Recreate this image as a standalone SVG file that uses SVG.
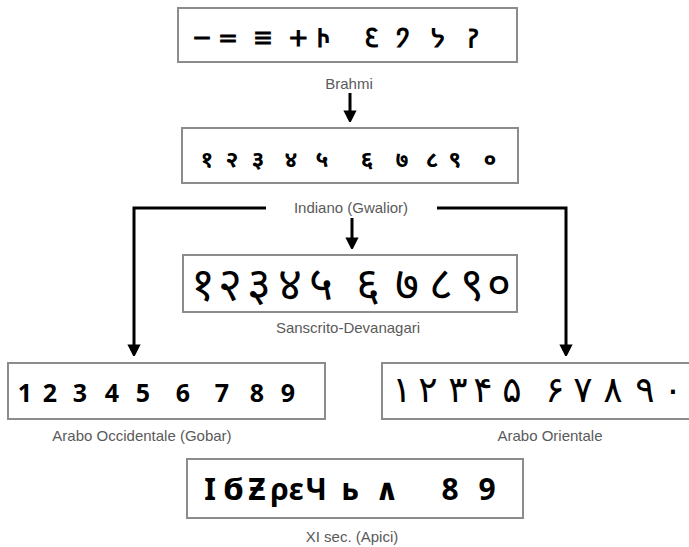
<svg xmlns="http://www.w3.org/2000/svg" width="689" height="547" viewBox="0 0 689 547">
<defs>
<style>
.box{fill:#fff;stroke:#8c8c8c;stroke-width:2}
.lbl{font-family:"Liberation Sans",Arial,sans-serif;font-size:15px;fill:#5a5a5a;text-anchor:middle}
.num{font-family:"Noto Sans","DejaVu Sans","Noto Sans CJK SC",sans-serif;fill:#000;text-anchor:middle;dominant-baseline:central}
.b{font-weight:bold}
.ar{font-family:"DejaVu Sans","Noto Sans",sans-serif}
.line{fill:none;stroke:#000;stroke-width:3}
</style>
<marker id="ah" markerWidth="4" markerHeight="4.4" refX="2.2" refY="2.2" orient="auto" markerUnits="strokeWidth">
<path d="M0,0 L4.4,2.2 L0,4.4 Z" fill="#000"/>
</marker>
</defs>
<rect width="689" height="547" fill="#fff"/>
<g id="brahmi">
<rect class="box" x="178" y="8" width="339" height="54"/>
<text class="num b" font-size="26" y="37"><tspan x="202">𑁒</tspan><tspan x="228">𑁓</tspan><tspan x="263">𑁔</tspan><tspan x="298">𑁕</tspan><tspan x="323">𑁖</tspan><tspan x="372">𑁗</tspan><tspan x="403">𑁘</tspan><tspan x="438">𑁙</tspan><tspan x="473">𑁚</tspan></text>
<text class="lbl" x="349" y="89">Brahmi</text>
</g>
<g id="gwalior">
<rect class="box" x="182" y="128" width="336" height="55"/>
<text class="num b" font-size="23" y="158"><tspan x="207">१</tspan><tspan x="232">२</tspan><tspan x="258">३</tspan><tspan x="291">४</tspan><tspan x="322">५</tspan><tspan x="367">६</tspan><tspan x="402">७</tspan><tspan x="432">८</tspan><tspan x="455">९</tspan><tspan x="490">०</tspan></text>
<text class="lbl" x="351" y="213">Indiano (Gwalior)</text>
</g>
<g id="sanscrito">
<rect class="box" x="183" y="255" width="334" height="57"/>
<text class="num" font-size="46" y="282"><tspan x="203">१</tspan><tspan x="230">२</tspan><tspan x="259">३</tspan><tspan x="290">४</tspan><tspan x="321">५</tspan><tspan x="368">६</tspan><tspan x="407">७</tspan><tspan x="441">८</tspan><tspan x="472">९</tspan><tspan x="499">०</tspan></text>
<text class="lbl" x="348" y="333">Sanscrito-Devanagari</text>
</g>
<g id="occidentale">
<rect class="box" x="8" y="363" width="317" height="56"/>
<text class="num b" font-size="25" y="392"><tspan x="25">1</tspan><tspan x="50">2</tspan><tspan x="80">3</tspan><tspan x="112">4</tspan><tspan x="143">5</tspan><tspan x="183">6</tspan><tspan x="222">7</tspan><tspan x="257">8</tspan><tspan x="288">9</tspan></text>
<text class="lbl" x="142" y="441">Arabo Occidentale (Gobar)</text>
</g>
<g id="orientale">
<rect class="box" x="382" y="363" width="320" height="56"/>
<text class="num ar" font-size="36" y="389"><tspan x="402">۱</tspan><tspan x="428">۲</tspan><tspan x="458">۳</tspan><tspan x="483">۴</tspan><tspan x="512">۵</tspan><tspan x="555">۶</tspan><tspan x="583">۷</tspan><tspan x="613">۸</tspan><tspan x="645">۹</tspan><tspan x="673">۰</tspan></text>
<text class="lbl" x="550" y="441">Arabo Orientale</text>
</g>
<g id="apici">
<rect class="box" x="187" y="459" width="336" height="59"/>
<text class="num b" font-size="30" y="488"><tspan x="210">I</tspan><tspan x="233">ϭ</tspan><tspan x="257">Ƶ</tspan><tspan x="287">ρε</tspan><tspan x="316">Ч</tspan><tspan x="350">ь</tspan><tspan x="387">∧</tspan><tspan x="450">8</tspan><tspan x="487">9</tspan></text>
<text class="lbl" x="352" y="542">XI sec. (Apici)</text>
</g>
<g id="connectors">
<line class="line" x1="350" y1="93" x2="350" y2="117" marker-end="url(#ah)"/>
<line class="line" x1="352" y1="218" x2="352" y2="244" marker-end="url(#ah)"/>
<polyline class="line" points="266,208 134,208 134,351" marker-end="url(#ah)"/>
<polyline class="line" points="437,208 566,208 566,351" marker-end="url(#ah)"/>
</g>
</svg>
